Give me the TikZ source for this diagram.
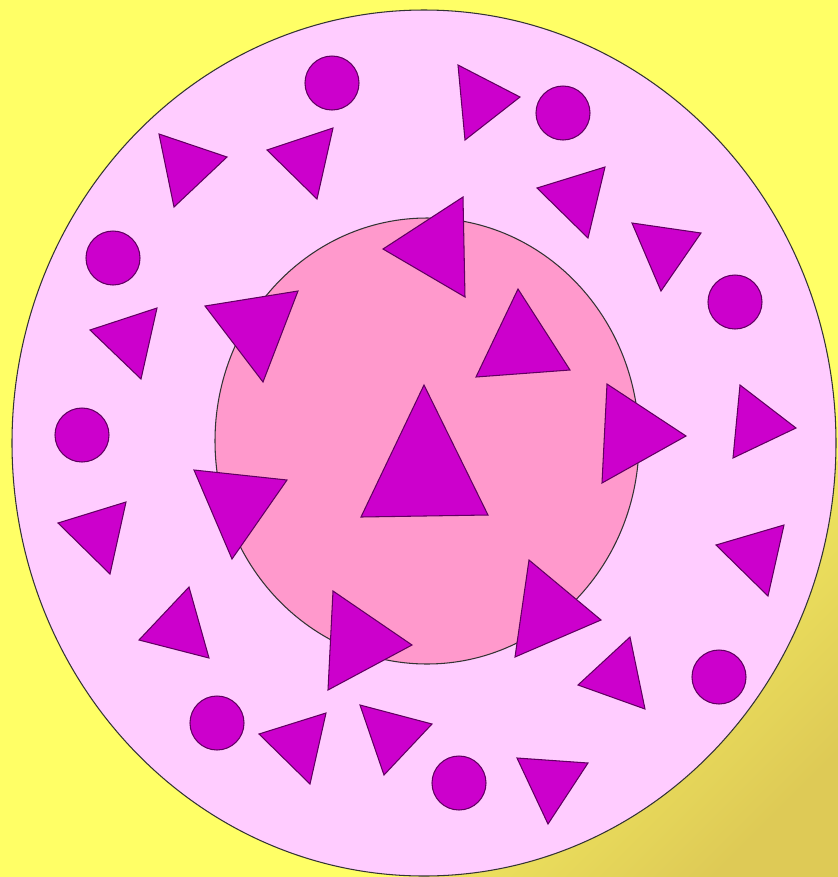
\documentclass[tikz,border=0pt]{standalone}
\usepackage{tikz}
\definecolor{bgyellow}{RGB}{255,255,102}
\definecolor{bgdark}{RGB}{222,202,86}
\definecolor{outerpink}{RGB}{255,204,255}
\definecolor{innerpink}{RGB}{255,153,204}
\definecolor{cpurple}{RGB}{204,0,204}
\definecolor{edgepurple}{RGB}{96,0,96}
\begin{document}
\begin{tikzpicture}[
    x=0.02cm, y=-0.02cm,
    disc/.style={draw=black!80, line width=0.6pt},
    piece/.style={fill=cpurple, draw=edgepurple, line width=0.6pt, line join=miter},
]
    \useasboundingbox (0,0) rectangle (838,877);
    \fill[bgyellow] (0,0) rectangle (838,877);
    \shade[top color=bgyellow, middle color=bgyellow, bottom color=bgdark, shading angle=45]
        (838,460) -- (838,877) -- (421,877) -- cycle;

    \draw[disc, fill=outerpink] (424,443) ellipse [x radius=412, y radius=433];
    \draw[disc, fill=innerpink] (427,441) ellipse [x radius=212, y radius=223];

    % dots
    \foreach \cx/\cy in {332/83, 563/113, 113/258, 735/302, 82/435, 719/677, 217/723, 459/783}
        \draw[piece] (\cx,\cy) circle [radius=27];

    % triangles, outer ring
    \draw[piece] (159,134) -- (227,157) -- (174,207) -- cycle;
    \draw[piece] (267,150) -- (333,128) -- (317,199) -- cycle;
    \draw[piece] (458,65) -- (520,97) -- (465,140) -- cycle;
    \draw[piece] (537,188) -- (605,167) -- (588,238) -- cycle;
    \draw[piece] (632,223) -- (701,233) -- (661,291) -- cycle;
    \draw[piece] (90,330) -- (157,308) -- (141,379) -- cycle;
    \draw[piece] (740,385) -- (796,428) -- (733,458) -- cycle;
    \draw[piece] (58,523) -- (126,502) -- (110,574) -- cycle;
    \draw[piece] (716,545) -- (784,525) -- (768,596) -- cycle;
    \draw[piece] (139,640) -- (189,587) -- (209,658) -- cycle;
    \draw[piece] (630,637) -- (578,685) -- (645,709) -- cycle;
    \draw[piece] (259,734) -- (326,713) -- (310,784) -- cycle;
    \draw[piece] (360,705) -- (432,724) -- (384,775) -- cycle;
    \draw[piece] (517,758) -- (588,763) -- (548,824) -- cycle;

    % triangles, inner disc
    \draw[piece] (205,306) -- (298,291) -- (263,382) -- cycle;
    \draw[piece] (383,249) -- (463,197) -- (465,297) -- cycle;
    \draw[piece] (518,289) -- (570,370) -- (476,377) -- cycle;
    \draw[piece] (424,385) -- (488,515) -- (361,517) -- cycle;
    \draw[piece] (607,384) -- (686,436) -- (602,483) -- cycle;
    \draw[piece] (194,470) -- (287,480) -- (232,559) -- cycle;
    \draw[piece] (333,591) -- (412,645) -- (328,690) -- cycle;
    \draw[piece] (529,560) -- (601,620) -- (515,657) -- cycle;
\end{tikzpicture}
\end{document}
